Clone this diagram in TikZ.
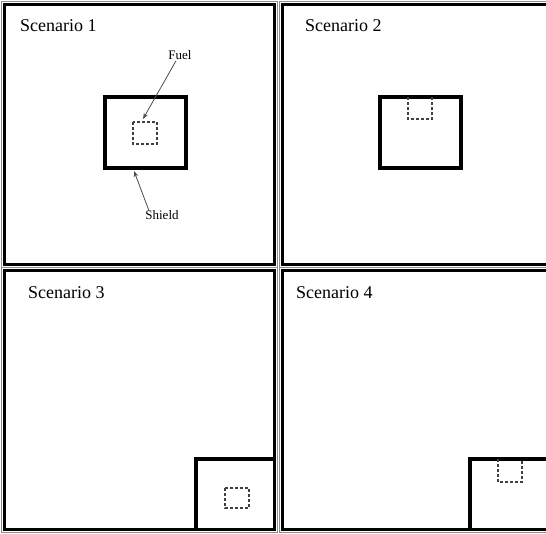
\documentclass[tikz,border=0pt]{standalone}
\usepackage{fontspec}
\setmainfont{Liberation Serif}
\usetikzlibrary{arrows.meta}
\begin{document}
\begin{tikzpicture}[x=1pt,y=-1pt,
  panel/.style={draw=black,line width=3pt},
  panelhalo/.style={draw=black!45,line width=0.9pt},
  shieldbox/.style={draw=black,line width=3.3pt},
  fuelbox/.style={draw=black!75,line width=1.4pt,dash pattern=on 3pt off 2pt},
  title/.style={font=\fontsize{18}{20}\selectfont,anchor=west,inner sep=0pt},
  lbl/.style={font=\fontsize{13}{15}\selectfont,inner sep=1pt},
  pointer/.style={draw=black!70,line width=0.8pt,-{Stealth[length=6pt,width=4.5pt]}}]
\useasboundingbox (0,0) rectangle (546,533);
% panel frames (outer halo + black frame)
\draw[panelhalo] (1,1) rectangle (277,267);
\draw[panel] (4,4) rectangle (274,264);
\draw[panelhalo] (279,1) -- (550,1);
\draw[panelhalo] (279,1) -- (279,267) -- (550,267);
\draw[panel] (550,4) -- (282,4) -- (282,264) -- (550,264);
\draw[panelhalo] (1,267) rectangle (277,532);
\draw[panel] (4,270) rectangle (274,529);
\draw[panelhalo] (550,267) -- (279,267) -- (279,532) -- (550,532);
\draw[panel] (550,270) -- (282,270) -- (282,529) -- (550,529);
% titles
\node[title] (t1) at (20,26) {Scenario 1};
\node[title] (t2) at (305,26) {Scenario 2};
\node[title] (t3) at (28,293) {Scenario 3};
\node[title] (t4) at (296,293) {Scenario 4};
% scenario 1
\draw[shieldbox] (105,97) rectangle (186,168);
\draw[fuelbox] (133,122) rectangle (157,144);
\coordinate (fueltip) at (143,119);
\coordinate (shieldtip) at (134,171);
\node[lbl] (fuellbl) at (180,55) {Fuel};
\node[lbl] (shieldlbl) at (162,215) {Shield};
\draw[pointer] ([xshift=-4pt]fuellbl.south) -- (fueltip);
\draw[pointer] ([xshift=5pt,yshift=-2pt]shieldlbl.north west) -- (shieldtip);
% scenario 2
\draw[shieldbox] (380,97) rectangle (461,168);
\draw[fuelbox] (408,97) -- (408,119) -- (432,119) -- (432,97);
% scenario 3
\draw[shieldbox] (196,529) -- (196,459) -- (274,459);
\draw[fuelbox] (225,488) rectangle (249,508);
% scenario 4
\draw[shieldbox] (470,529) -- (470,459) -- (550,459);
\draw[fuelbox] (498,459) -- (498,482) -- (522,482) -- (522,459);
\end{tikzpicture}
\end{document}
